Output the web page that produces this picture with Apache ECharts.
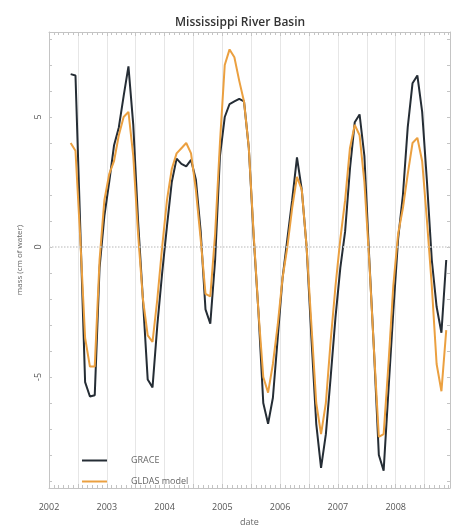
<!DOCTYPE html>
<html>
<head>
<meta charset="utf-8">
<script src="https://cdn.jsdelivr.net/npm/echarts@6/dist/echarts.min.js"></script>
<style>html,body{margin:0;padding:0;background:#fff}#c{width:454px;height:525px}</style>
</head>
<body>
<div id="c"></div>
<script>
var months = [
 '2002-05','2002-06','2002-07','2002-08','2002-09','2002-10','2002-11','2002-12',
 '2003-01','2003-02','2003-03','2003-04','2003-05','2003-06','2003-07','2003-08','2003-09','2003-10','2003-11','2003-12',
 '2004-01','2004-02','2004-03','2004-04','2004-05','2004-06','2004-07','2004-08','2004-09','2004-10','2004-11','2004-12',
 '2005-01','2005-02','2005-03','2005-04','2005-05','2005-06','2005-07','2005-08','2005-09','2005-10','2005-11','2005-12',
 '2006-01','2006-02','2006-03','2006-04','2006-05','2006-06','2006-07','2006-08','2006-09','2006-10','2006-11','2006-12',
 '2007-01','2007-02','2007-03','2007-04','2007-05','2007-06','2007-07','2007-08','2007-09','2007-10','2007-11','2007-12',
 '2008-01','2008-02','2008-03','2008-04','2008-05','2008-06','2008-07','2008-08','2008-09','2008-10','2008-11'
];
var grace = [
 6.65, 6.6, 0.7, -5.2, -5.75, -5.7, -0.8, 1.2,
 2.5, 3.9, 4.6, 5.8, 6.95, 4.7, 1.0, -2.0, -5.1, -5.4, -3.0, -1.0,
 0.8, 2.5, 3.4, 3.2, 3.1, 3.35, 2.6, 0.6, -2.4, -2.95, -0.5, 3.5,
 5.0, 5.5, 5.6, 5.7, 5.6, 3.8, 0.4, -2.5, -6.0, -6.8, -5.8, -3.5,
 -1.2, 0.3, 1.8, 3.45, 2.2, 0.0, -3.5, -6.8, -8.5, -7.2, -5.0, -2.7,
 -0.8, 0.6, 3.0, 4.8, 5.1, 3.5, -0.4, -4.0, -8.0, -8.6, -5.5, -2.5,
 0.3, 2.0, 4.6, 6.3, 6.6, 5.2, 2.5, -0.5, -2.3, -3.3, -0.5
];
var gldas = [
 4.0, 3.7, 0.3, -3.5, -4.6, -4.6, -0.5, 1.8,
 2.8, 3.3, 4.3, 5.0, 5.2, 3.5, 0.5, -2.0, -3.4, -3.65, -2.0, 0.0,
 1.8, 3.0, 3.6, 3.8, 4.0, 3.6, 2.2, 0.3, -1.8, -1.9, 0.5, 4.0,
 7.0, 7.6, 7.3, 6.4, 5.6, 3.8, 0.5, -2.5, -5.0, -5.6, -4.5, -3.0,
 -1.2, 0.0, 1.5, 2.7, 2.2, 0.0, -3.0, -6.0, -7.2, -6.0, -3.6, -1.5,
 0.3, 1.8, 3.8, 4.7, 4.3, 2.5, -0.5, -4.0, -7.3, -7.2, -4.5, -1.5,
 0.5, 1.5, 2.8, 4.0, 4.2, 3.3, 1.0, -1.5, -4.5, -5.55, -3.2
];
var yearTicks = [2002, 2003, 2004, 2005, 2006, 2007, 2008];
var yLabelValues = [-5, 0, 5];
var seriesNames = ['GRACE', 'GLDAS model'];

function toYear(s) {
  var p = s.split('-');
  return +p[0] + (+p[1] - 0.5) / 12;
}
function pairs(vals) {
  return months.map(function (m, i) { return [toYear(m), vals[i]]; });
}
var yMinor = [];
for (var v = -9; v <= 8; v++) yMinor.push(v);

var chart = echarts.init(document.getElementById('c'));
var font = 'Open Sans, DejaVu Sans, sans-serif';
var axisCol = '#c4c4c4';
chart.setOption({
  animation: false,
  backgroundColor: '#fff',
  title: {
    text: 'Mississippi River Basin',
    left: 170, top: 12,
    textStyle: { fontFamily: font, fontSize: 12, fontWeight: 600, color: '#333' }
  },
  legend: {
    orient: 'vertical', left: 77, top: 451, itemGap: 12,
    itemWidth: 25, itemHeight: 2,
    icon: 'rect',
    textStyle: { fontFamily: font, fontSize: 9, color: '#666', padding: [0, 0, 0, 19] },
    data: seriesNames
  },
  grid: { left: 49, right: 4, top: 32, bottom: 37, containLabel: false, outerBoundsMode: 'none' },
  xAxis: [{
    type: 'value', min: 2002, max: 2008.94, interval: 0.5,
    name: 'date', nameLocation: 'middle', nameGap: 30,
    nameTextStyle: { fontFamily: font, fontSize: 9, color: '#666' },
    axisLine: { show: true, onZero: false, lineStyle: { color: axisCol } },
    axisTick: { show: true, inside: true, length: 4, lineStyle: { color: axisCol } },
    minorTick: { show: true, splitNumber: 6, length: 3, lineStyle: { color: axisCol } },
    axisLabel: {
      margin: 15, fontFamily: font, fontSize: 9, color: '#555',
      showMaxLabel: false,
      formatter: function (val) { return yearTicks.indexOf(val) >= 0 ? String(val) : ''; }
    },
    splitLine: { show: true, lineStyle: { color: '#e6e6e6', width: 1 } }
  }, {
    type: 'value', position: 'top', min: 2002, max: 2008.94, interval: 0.5,
    axisLine: { show: true, onZero: false, lineStyle: { color: axisCol } },
    axisTick: { show: true, inside: true, length: 4, lineStyle: { color: axisCol } },
    minorTick: { show: true, splitNumber: 6, length: 3, lineStyle: { color: axisCol } },
    axisLabel: { show: false },
    splitLine: { show: false }
  }],
  yAxis: [{
    type: 'value', min: -9.27, max: 8.27,
    name: 'mass (cm of water)', nameLocation: 'middle', nameGap: 25, nameRotate: 90,
    nameTextStyle: { fontFamily: font, fontSize: 8, color: '#666' },
    axisLine: { show: true, onZero: false, lineStyle: { color: axisCol } },
    axisTick: { show: true, inside: true, length: 3, customValues: yMinor, lineStyle: { color: axisCol } },
    axisLabel: { customValues: yLabelValues, rotate: 90, margin: 6, fontFamily: font, fontSize: 9, color: '#555' },
    splitLine: { show: false }
  }, {
    type: 'value', position: 'right', min: -9.27, max: 8.27,
    axisLine: { show: true, onZero: false, lineStyle: { color: axisCol } },
    axisTick: { show: true, inside: true, length: 3, customValues: yMinor, lineStyle: { color: axisCol } },
    axisLabel: { show: false },
    splitLine: { show: false }
  }],
  series: [{
    name: seriesNames[0], type: 'line', data: pairs(grace),
    showSymbol: false, symbol: 'none', z: 3,
    lineStyle: { color: '#252d35', width: 2 }, itemStyle: { color: '#252d35' },
    markLine: {
      silent: true, symbol: 'none', label: { show: false },
      lineStyle: { color: '#cfcfcf', type: 'dotted', width: 1.5 },
      data: [{ yAxis: 0 }]
    }
  }, {
    name: seriesNames[1], type: 'line', data: pairs(gldas),
    showSymbol: false, symbol: 'none', z: 4,
    lineStyle: { color: '#eba040', width: 2 }, itemStyle: { color: '#eba040' }
  }]
});
</script>
</body>
</html>
